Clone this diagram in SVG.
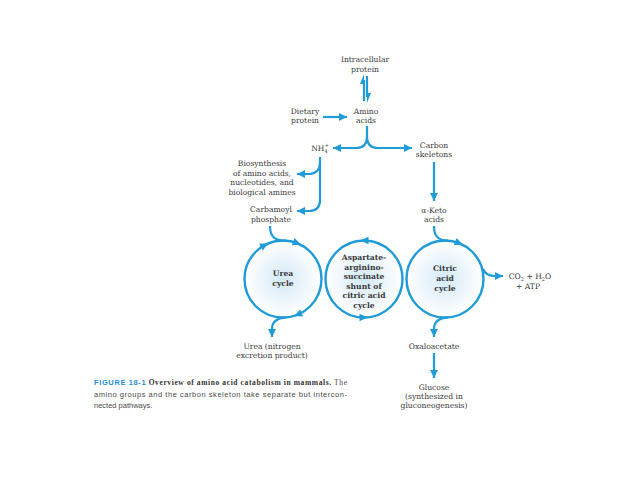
<svg xmlns="http://www.w3.org/2000/svg" xmlns:xlink="http://www.w3.org/1999/xlink" width="638" height="479" viewBox="0 0 638 479">
<style>
.lbl{font-family:"DejaVu Serif","Liberation Serif",serif;font-size:7.6px;fill:#3a3a3a;text-anchor:middle}
.bl{font-family:"DejaVu Serif","Liberation Serif",serif;font-size:7.6px;font-weight:bold;fill:#3a3a3a;text-anchor:middle}
.ln{fill:none;stroke:#1f9bd7;stroke-width:2.2}
.cyc{fill:url(#cg);stroke:#1f9bd7;stroke-width:2.4}
.ah{fill:#1f9bd7}
.cap{font-family:"Liberation Sans","DejaVu Sans",sans-serif;font-size:7.5px;fill:#4a4a4a}
</style>
<defs>
<radialGradient id="cg" cx="50%" cy="50%" r="50%">
<stop offset="0%" stop-color="#d3e9f7"/>
<stop offset="55%" stop-color="#ecf5fb"/>
<stop offset="100%" stop-color="#ffffff"/>
</radialGradient>
<marker id="arr" markerUnits="userSpaceOnUse" markerWidth="9" markerHeight="8" refX="8" refY="4" orient="auto">
<path d="M0,0 L8,4 L0,8 Z" fill="#1f9bd7"/>
</marker>
<path id="head" d="M3.5,0 L-4.5,-3.8 L-4.5,3.8 Z"/>
</defs>
<rect width="638" height="479" fill="#ffffff"/>

<g id="intracellular-protein"><text class="lbl" x="365" y="62">Intracellular</text><text class="lbl" x="365" y="72">protein</text></g>
<g id="dietary-protein"><text class="lbl" x="305" y="114">Dietary</text><text class="lbl" x="305" y="123">protein</text></g>
<g id="amino-acids"><text class="lbl" x="366" y="114">Amino</text><text class="lbl" x="366" y="123">acids</text></g>
<g id="nh4"><text class="lbl" x="320" y="151">NH<tspan font-size="5" dy="2">4</tspan><tspan font-size="5" dx="-3" dy="-6">+</tspan></text></g>
<g id="carbon-skeletons"><text class="lbl" x="434" y="148">Carbon</text><text class="lbl" x="434" y="157">skeletons</text></g>
<g id="biosynthesis"><text class="lbl" x="262" y="166">Biosynthesis</text><text class="lbl" x="262" y="176">of amino acids,</text><text class="lbl" x="262" y="185">nucleotides, and</text><text class="lbl" x="262" y="195">biological amines</text></g>
<g id="carbamoyl-phosphate"><text class="lbl" x="271" y="212">Carbamoyl</text><text class="lbl" x="271" y="222">phosphate</text></g>
<g id="alpha-keto-acids"><text class="lbl" x="434" y="213">α-Keto</text><text class="lbl" x="434" y="222">acids</text></g>

<g id="urea-cycle"><circle class="cyc" cx="283" cy="279" r="38.5"/><text class="bl" x="283" y="276">Urea</text><text class="bl" x="283" y="286">cycle</text></g>
<g id="aspartate-shunt"><circle class="cyc" cx="364" cy="279" r="38.5"/><text class="bl" x="364" y="260">Aspartate-</text><text class="bl" x="364" y="269.5">arginino-</text><text class="bl" x="364" y="279">succinate</text><text class="bl" x="364" y="288.5">shunt of</text><text class="bl" x="364" y="298">citric acid</text><text class="bl" x="364" y="307.5">cycle</text></g>
<g id="citric-acid-cycle"><circle class="cyc" cx="445" cy="279" r="38.5"/><text class="bl" x="445" y="271">Citric</text><text class="bl" x="445" y="281">acid</text><text class="bl" x="445" y="291">cycle</text></g>

<g id="co2-h2o-atp"><text class="lbl" x="530" y="279">CO<tspan font-size="5" dy="2">2</tspan><tspan dy="-2"> + H</tspan><tspan font-size="5" dy="2">2</tspan><tspan dy="-2">O</tspan></text><text class="lbl" x="528" y="289">+ ATP</text></g>
<g id="urea"><text class="lbl" x="272" y="349">Urea (nitrogen</text><text class="lbl" x="272" y="358">excretion product)</text></g>
<g id="oxaloacetate"><text class="lbl" x="434" y="349">Oxaloacetate</text></g>
<g id="glucose"><text class="lbl" x="434" y="390">Glucose</text><text class="lbl" x="434" y="399">(synthesized in</text><text class="lbl" x="434" y="408">gluconeogenesis)</text></g>

<g id="connectors">
<path class="ln" d="M364,101 L364,80"/><path class="ah" d="M364,74 L364,84 L360,84 Z"/>
<path class="ln" d="M367,76 L367,97"/><path class="ah" d="M367,103 L367,93 L371,93 Z"/>
<path class="ln" d="M323,117 L347,117" marker-end="url(#arr)"/>
<path class="ln" d="M367,126 L367,137 Q367,148 356,148 L333,148" marker-end="url(#arr)"/>
<path class="ln" d="M367,137 Q367,148 378,148 L412,148" marker-end="url(#arr)"/>
<path class="ln" d="M320,157 L320,200 Q320,211 309,211 L297,211" marker-end="url(#arr)"/>
<path class="ln" d="M320,162 Q320,174 308,174 L297,174" marker-end="url(#arr)"/>
<path class="ln" d="M434,162 L434,201" marker-end="url(#arr)"/>
<path class="ln" d="M270,226 C270,238 276,240.5 286,240.7"/>
<path class="ln" d="M434,226 C434,238 440,240.5 448,240.7"/>
<path class="ln" d="M286,317.3 C277,318 272,322 272,329 L272,337" marker-end="url(#arr)"/>
<path class="ln" d="M448,317.3 C439,318 434,322 434,329 L434,337" marker-end="url(#arr)"/>
<path class="ln" d="M483,269 C485,274 489,276 495,276 L503,276" marker-end="url(#arr)"/>
<path class="ln" d="M434,353 L434,378" marker-end="url(#arr)"/>
<use href="#head" class="ah" transform="translate(265,245) rotate(-28)"/>
<use href="#head" class="ah" transform="translate(297.4,243.3) rotate(22)"/>
<use href="#head" class="ah" transform="translate(297.4,314.7) rotate(158)"/>
<use href="#head" class="ah" transform="translate(364,240.5) rotate(180)"/>
<use href="#head" class="ah" transform="translate(364,317.5) rotate(0)"/>
<use href="#head" class="ah" transform="translate(459.4,243.3) rotate(22)"/>
</g>

<g id="caption">
<text class="cap" x="94" y="385" textLength="253" lengthAdjust="spacing"><tspan font-weight="bold" fill="#1f8fcf">FIGURE 18-1</tspan><tspan font-family="Liberation Serif, serif" font-weight="bold" fill="#333">  Overview of amino acid catabolism in mammals.</tspan><tspan font-family="Liberation Serif, serif"> The</tspan></text>
<text class="cap" x="94" y="397" textLength="253" lengthAdjust="spacing">amino groups and the carbon skeleton take separate but intercon-</text>
<text class="cap" x="94" y="408">nected pathways.</text>
</g>
</svg>
